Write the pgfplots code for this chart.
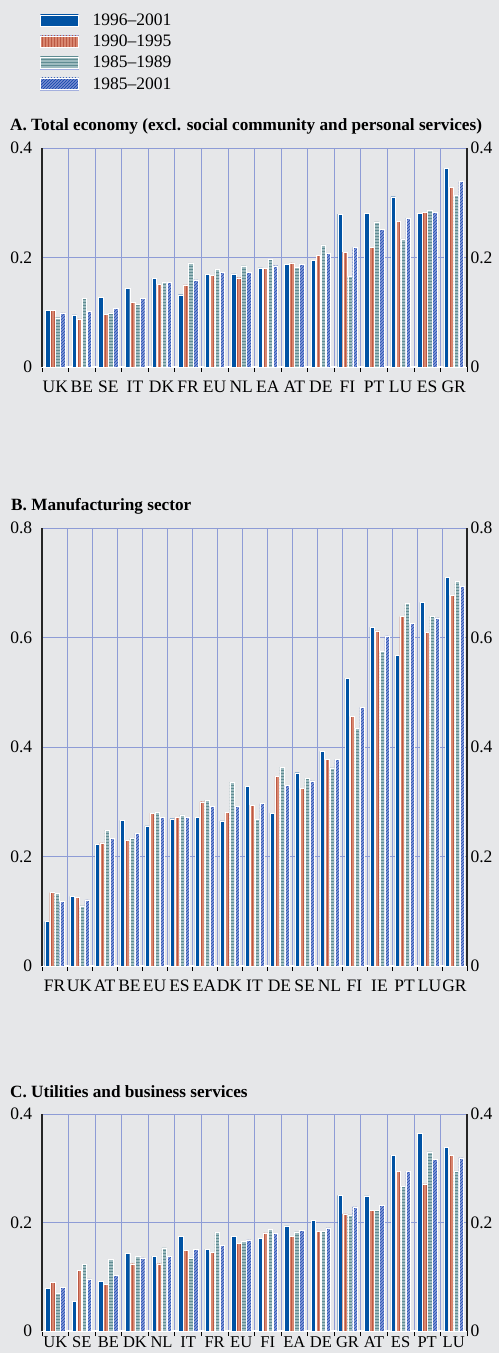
\documentclass[border=0pt]{standalone}
\usepackage{fontspec}
\setmainfont{Liberation Serif}
\usepackage{pgfplots}
\usepackage{pgfplotstable}
\pgfplotsset{compat=1.18}
\usetikzlibrary{patterns}

\definecolor{bg}{HTML}{E6E7E9}
\definecolor{gridc}{HTML}{8E9CD6}
\definecolor{sblue}{HTML}{0052A3}
\definecolor{sred}{HTML}{D8866F}
\definecolor{sredd}{HTML}{BB5843}
\definecolor{steal}{HTML}{9DBBBF}
\definecolor{steald}{HTML}{5F8C92}
\definecolor{shatch}{HTML}{8597D8}
\definecolor{shatchd}{HTML}{1F4FAF}

% panel A: total economy
\pgfplotstableread{
cat a b c d
UK 0.104 0.103 0.090 0.099
BE 0.095 0.088 0.125 0.101
SE 0.127 0.096 0.099 0.107
IT 0.143 0.118 0.115 0.125
DK 0.162 0.151 0.154 0.154
FR 0.132 0.150 0.190 0.159
EU 0.169 0.167 0.178 0.173
NL 0.170 0.163 0.185 0.173
EA 0.181 0.180 0.196 0.185
AT 0.188 0.190 0.182 0.187
DE 0.195 0.204 0.223 0.207
FI 0.279 0.210 0.165 0.218
PT 0.280 0.218 0.265 0.251
LU 0.311 0.266 0.234 0.272
ES 0.280 0.282 0.286 0.282
GR 0.363 0.328 0.313 0.339
}\tabA

% panel B: manufacturing
\pgfplotstableread{
cat a b c d
FR 0.081 0.134 0.133 0.118
UK 0.127 0.125 0.110 0.121
AT 0.222 0.225 0.248 0.233
BE 0.266 0.230 0.233 0.242
EU 0.256 0.279 0.280 0.272
ES 0.269 0.271 0.276 0.271
EA 0.271 0.300 0.303 0.292
DK 0.265 0.280 0.336 0.292
IT 0.328 0.294 0.268 0.297
DE 0.279 0.347 0.363 0.330
SE 0.353 0.324 0.343 0.338
NL 0.392 0.377 0.362 0.377
FI 0.526 0.456 0.434 0.472
IE 0.619 0.612 0.575 0.603
PT 0.567 0.638 0.662 0.626
LU 0.664 0.610 0.639 0.636
GR 0.710 0.677 0.702 0.694
}\tabB

% panel C: utilities and business services
\pgfplotstableread{
cat a b c d
UK 0.079 0.090 0.069 0.081
SE 0.055 0.112 0.123 0.096
BE 0.091 0.086 0.132 0.102
DK 0.143 0.124 0.137 0.135
NL 0.138 0.124 0.153 0.137
IT 0.175 0.149 0.135 0.151
FR 0.151 0.145 0.182 0.158
EU 0.175 0.162 0.165 0.168
FI 0.171 0.181 0.188 0.180
EA 0.194 0.175 0.183 0.185
DE 0.204 0.184 0.184 0.190
GR 0.250 0.216 0.214 0.229
AT 0.249 0.223 0.223 0.231
ES 0.324 0.294 0.266 0.294
PT 0.364 0.271 0.330 0.316
LU 0.338 0.324 0.295 0.319
}\tabC

\newcommand{\ticksz}{\fontsize{17.5}{18}\selectfont}
\newcommand{\titlesz}{\fontsize{17.2}{18}\selectfont\bfseries}

% legend swatch: border first, then base colour, then pattern
\newcommand{\swatch}[3]{%
  \draw[gridc!80,line width=0.6pt] (0pt,-6pt) rectangle (38pt,6pt);
  \fill[fill=#1] (0.3pt,-5.7pt) rectangle (37.7pt,5.7pt);
  \fill[pattern=#2,pattern color=#3] (0.3pt,-5.7pt) rectangle (37.7pt,5.7pt);}

\pgfplotsset{
  s1/.style={fill=sblue,draw=white,line width=0.4pt,
    legend image code/.code={\swatch{sblue}{horizontal lines}{sblue}}},
  s2/.style={fill=sred,draw=white,line width=0.4pt,
    postaction={pattern=vertical lines,pattern color=sredd},
    legend image code/.code={\swatch{sred}{vertical lines}{sredd}}},
  s3/.style={fill=steal,draw=white,line width=0.4pt,
    postaction={pattern=horizontal lines,pattern color=steald},
    legend image code/.code={\swatch{steal}{horizontal lines}{steald}}},
  s4/.style={fill=shatch,draw=white,line width=0.4pt,
    postaction={pattern=north east lines,pattern color=shatchd},
    legend image code/.code={\swatch{shatch}{north east lines}{shatchd}}},
  panel/.style={
    scale only axis, width=425pt, anchor=south west,
    xmin=-0.5, ymin=0,
    ybar=0.5pt, bar width=4.5pt,
    axis x line*=bottom, axis y line*=left,
    x axis line style={white,line width=1.2pt},
    y axis line style={black!85,line width=1.2pt},
    xtick=data, major x tick style={draw=none},
    xminorgrids, minor x grid style={gridc,line width=0.7pt},
    minor x tick style={black,line width=0.7pt},
    minor tick length=5pt, tick align=outside,
    ymajorgrids, major y grid style={gridc,line width=0.7pt},
    ytick style={draw=none},
    tick label style={font=\ticksz},
    /pgf/number format/assume math mode=true,
    xticklabel style={yshift=-6pt},
    yticklabel style={xshift=-2pt},
  },
  rpanel/.style={
    scale only axis, width=425pt, anchor=south west,
    xmin=0, xmax=1, ymin=0,
    axis x line=none, axis y line*=right,
    y axis line style={black!85,line width=1.2pt},
    ytick style={draw=none},
    tick label style={font=\ticksz},
    /pgf/number format/assume math mode=true,
  },
}

\begin{document}
\begin{tikzpicture}
\fill[bg] (0,0) rectangle (499pt,1353pt);
\useasboundingbox (0,0) rectangle (499pt,1353pt);

% panel A
\node[anchor=west,inner sep=0pt] at (10pt,1227pt) {\titlesz A. Total economy (excl. social community and personal services)};
\begin{axis}[panel, at={(42pt,986pt)}, height=219pt,
  xmax=15.5, minor xtick={-0.5,0.5,...,15.5},
  ymax=0.4, ytick={0,0.2,0.4}, yticklabels={0,0.2,0.4},
  xticklabels from table={\tabA}{cat},
  legend style={at={(rel axis cs:-0.005,1.622)}, anchor=north west,
    draw=none, fill=none, font=\ticksz, inner sep=0pt,
    row sep=4pt, column sep=12pt},
  legend cell align=left]
\addplot[s1] table[x expr=\coordindex, y=a] {\tabA};
\addplot[s2] table[x expr=\coordindex, y=b] {\tabA};
\addplot[s3] table[x expr=\coordindex, y=c] {\tabA};
\addplot[s4] table[x expr=\coordindex, y=d] {\tabA};
\legend{1996--2001,1990--1995,1985--1989,1985--2001}
\end{axis}
\begin{axis}[rpanel, at={(42pt,986pt)}, height=219pt,
  ymax=0.4, ytick={0,0.2,0.4}, yticklabels={0,0.2,0.4}]
\end{axis}

% panel B
\node[anchor=west,inner sep=0pt] at (11pt,847pt) {\titlesz B. Manufacturing sector};
\begin{axis}[panel, at={(42pt,387pt)}, height=438pt,
  xmax=16.5, minor xtick={-0.5,0.5,...,16.5},
  ymax=0.8, ytick={0,0.2,0.4,0.6,0.8}, yticklabels={0,0.2,0.4,0.6,0.8},
  xticklabels from table={\tabB}{cat}]
\addplot[s1] table[x expr=\coordindex, y=a] {\tabB};
\addplot[s2] table[x expr=\coordindex, y=b] {\tabB};
\addplot[s3] table[x expr=\coordindex, y=c] {\tabB};
\addplot[s4] table[x expr=\coordindex, y=d] {\tabB};
\end{axis}
\begin{axis}[rpanel, at={(42pt,387pt)}, height=438pt,
  ymax=0.8, ytick={0,0.2,0.4,0.6,0.8}, yticklabels={0,0.2,0.4,0.6,0.8}]
\end{axis}

% panel C (labels sit close to the page edge)
\node[anchor=west,inner sep=0pt] at (10pt,261pt) {\titlesz C. Utilities and business services};
\begin{axis}[panel, at={(42pt,22pt)}, height=217pt,
  xmax=15.5, minor xtick={-0.5,0.5,...,15.5},
  ymax=0.4, ytick={0,0.2,0.4}, yticklabels={0,0.2,0.4},
  xticklabels from table={\tabC}{cat},
  xticklabel style={yshift=5.5pt,inner sep=1pt,font=\fontsize{16.5}{17}\selectfont}]
\addplot[s1] table[x expr=\coordindex, y=a] {\tabC};
\addplot[s2] table[x expr=\coordindex, y=b] {\tabC};
\addplot[s3] table[x expr=\coordindex, y=c] {\tabC};
\addplot[s4] table[x expr=\coordindex, y=d] {\tabC};
\end{axis}
\begin{axis}[rpanel, at={(42pt,22pt)}, height=217pt,
  ymax=0.4, ytick={0,0.2,0.4}, yticklabels={0,0.2,0.4}]
\end{axis}
\end{tikzpicture}
\end{document}
